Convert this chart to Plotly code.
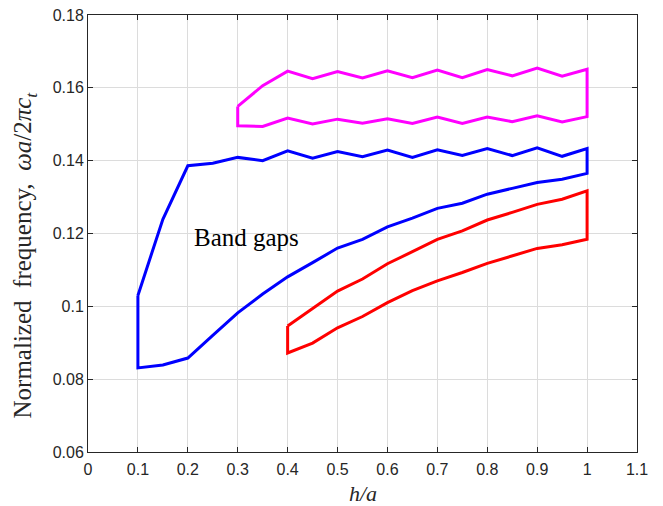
import plotly.graph_objects as go

# ---- data ----
blue_x = [0.10, 0.15, 0.20, 0.25, 0.30, 0.35, 0.40, 0.45, 0.50, 0.55,
          0.60, 0.65, 0.70, 0.75, 0.80, 0.85, 0.90, 0.95, 1.00]
blue_upper = [0.1030, 0.1239, 0.1386, 0.1393, 0.1409, 0.1400, 0.1427, 0.1407, 0.1425, 0.1411,
              0.1429, 0.1409, 0.1430, 0.1414, 0.1433, 0.1414, 0.1435, 0.1412, 0.1433]
blue_lower = [0.0831, 0.0839, 0.0858, 0.0920, 0.0982, 0.1034, 0.1081, 0.1120, 0.1160, 0.1184,
              0.1218, 0.1242, 0.1269, 0.1283, 0.1308, 0.1324, 0.1340, 0.1349, 0.1365]

red_x = [0.40, 0.45, 0.50, 0.55, 0.60, 0.65, 0.70, 0.75, 0.80, 0.85, 0.90, 0.95, 1.00]
red_upper = [0.0946, 0.0993, 0.1042, 0.1075, 0.1117, 0.1150, 0.1184, 0.1207, 0.1237,
             0.1258, 0.1280, 0.1294, 0.1317]
red_lower = [0.0872, 0.0899, 0.0941, 0.0972, 0.1010, 0.1043, 0.1070, 0.1093, 0.1118,
             0.1139, 0.1159, 0.1169, 0.1184]

mag_x = [0.30, 0.35, 0.40, 0.45, 0.50, 0.55, 0.60, 0.65, 0.70, 0.75, 0.80, 0.85, 0.90, 0.95, 1.00]
mag_upper = [0.1549, 0.1606, 0.1646, 0.1625, 0.1645, 0.1627, 0.1647, 0.1628, 0.1649, 0.1628,
             0.1650, 0.1633, 0.1654, 0.1632, 0.1651]
mag_lower = [0.1496, 0.1494, 0.1517, 0.1501, 0.1514, 0.1503, 0.1515, 0.1502, 0.1520, 0.1502,
             0.1520, 0.1507, 0.1523, 0.1506, 0.1521]

x_ticks = [0, 0.1, 0.2, 0.3, 0.4, 0.5, 0.6, 0.7, 0.8, 0.9, 1.0, 1.1]
x_tick_labels = ["0", "0.1", "0.2", "0.3", "0.4", "0.5", "0.6", "0.7", "0.8", "0.9", "1", "1.1"]
y_ticks = [0.06, 0.08, 0.10, 0.12, 0.14, 0.16, 0.18]
y_tick_labels = ["0.06", "0.08", "0.1", "0.12", "0.14", "0.16", "0.18"]


def closed(xs, up, lo):
    px = list(xs) + list(xs[::-1]) + [xs[0]]
    py = list(up) + list(lo[::-1]) + [up[0]]
    return px, py


fig = go.Figure()
for xs, up, lo, col in [(blue_x, blue_upper, blue_lower, "#0000FF"),
                        (red_x, red_upper, red_lower, "#FF0000"),
                        (mag_x, mag_upper, mag_lower, "#FF00FF")]:
    px, py = closed(xs, up, lo)
    fig.add_trace(go.Scatter(x=px, y=py, mode="lines",
                             line=dict(color=col, width=3), showlegend=False,
                             hoverinfo="skip"))

serif = "Liberation Serif"
fig.add_annotation(x=0.3176, y=0.1190, text="Band gaps", showarrow=False,
                   font=dict(family=serif, size=25, color="#000000"))

# axis titles as annotations (positioned like the reference)
fig.add_annotation(xref="paper", yref="paper", x=-0.1148, y=0.452,
                   xanchor="center", yanchor="middle", textangle=-90, showarrow=False,
                   text="Normalized  frequency,  <i>ωa</i>/2<i>πc<sub>t</sub></i>",
                   font=dict(family=serif, size=25, color="#262626"))
fig.add_annotation(xref="paper", yref="paper", x=0.5, y=-0.095,
                   xanchor="center", yanchor="middle", showarrow=False,
                   text="<i>h/a</i>",
                   font=dict(family=serif, size=22, color="#262626"))

axis_common = dict(
    showgrid=True, gridcolor="#DCDCDC", gridwidth=1,
    showline=True, linecolor="#262626", linewidth=1, mirror="ticks",
    ticks="inside", ticklen=5, tickcolor="#262626", tickwidth=1,
    zeroline=False, automargin=False, ticklabeloverflow="allow",
    tickfont=dict(family="Liberation Sans", size=16, color="#262626"),
)

fig.update_xaxes(range=[0, 1.1], tickvals=x_ticks, ticktext=x_tick_labels,
                 ticklabelstandoff=3, **axis_common)
fig.update_yaxes(range=[0.06, 0.18], tickvals=y_ticks, ticktext=y_tick_labels, **axis_common)

# page body has an 8px margin, so the figure is drawn offset by 8px
fig.update_layout(width=655, height=498,
                  margin=dict(l=80, r=26, t=7, b=54, autoexpand=False),
                  plot_bgcolor="white", paper_bgcolor="white")

fig.write_html("out.html")
